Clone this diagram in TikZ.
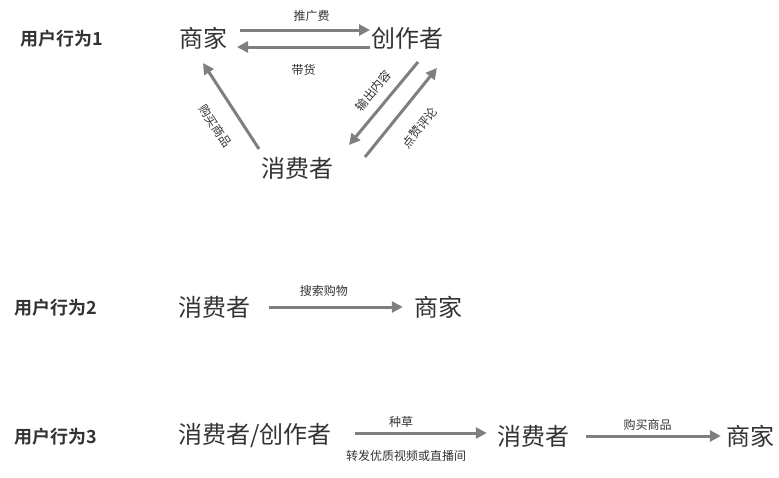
\documentclass[tikz,border=0pt]{standalone}
\usepackage{fontspec}
\setmainfont{Noto Sans CJK SC}[BoldFont={Noto Sans CJK SC Bold}]
\usetikzlibrary{arrows.meta}
\definecolor{arrgray}{HTML}{7F7F7F}
\definecolor{txtgray}{HTML}{333333}
\begin{document}
\begin{tikzpicture}[x=1pt, y=-1pt,
  role/.style={inner sep=0pt, text=txtgray, font=\fontsize{24}{24}\selectfont},
  tag/.style={inner sep=0pt, text=txtgray, font=\bfseries\fontsize{18}{18}\selectfont},
  lbl/.style={inner sep=1pt, text=txtgray, font=\fontsize{12}{12}\selectfont},
  flow/.style={arrgray, line width=3pt, -{Triangle[length=11pt, width=11pt]}}]
\useasboundingbox (0,0) rectangle (779,477);
% behaviour 1
\node[tag] (tag1) at (62,39) {用户行为1};
\node[role] (shang1) at (203,38) {商家};
\node[role] (chuang1) at (407,38) {创作者};
\node[role] (xiao1) at (297,168) {消费者};
\draw[flow] ([shift={(37,-8)}]shang1.center) -- ([shift={(-37,-8)}]chuang1.center)
  node[lbl, pos=0.55, above=6pt] (fee) {推广费};
\draw[flow] ([shift={(-37,9)}]chuang1.center) -- ([shift={(34,9)}]shang1.center)
  node[lbl, pos=0.5, below=15pt] (sell) {带货};
\draw[flow] ([shift={(-38,-19)}]xiao1.center) -- ([shift={(0,25)}]shang1.center)
  node[lbl, sloped, pos=0.42, below=16pt] (buy1) {购买商品};
\draw[flow] ([shift={(11,24)}]chuang1.center) -- ([shift={(52,-23)}]xiao1.center)
  node[lbl, sloped, pos=0.47, above=8pt] (out) {输出内容};
\draw[flow] ([shift={(68,-11)}]xiao1.center) -- ([shift={(30,30)}]chuang1.center)
  node[lbl, sloped, pos=0.5, below=16pt] (like) {点赞评论};
% behaviour 2
\node[tag] (tag2) at (56,308) {用户行为2};
\node[role] (xiao2) at (214,307) {消费者};
\node[role] (shang2) at (438,307) {商家};
\draw[flow, shorten <=19pt, shorten >=11pt] (xiao2.east) -- (shang2.west)
  node[lbl, pos=0.45, above=8pt] (search) {搜索购物};
% behaviour 3
\node[tag] (tag3) at (56,437) {用户行为3};
\node[role] (both3) at (255,436) {消费者/创作者};
\node[role] (xiao3) at (533,436) {消费者};
\node[role] (shang3) at (750,436) {商家};
\draw[flow, shorten <=23pt, shorten >=10pt] ([yshift=3pt]both3.east) -- ([yshift=3pt]xiao3.west)
  node[lbl, pos=0.42, above=3pt] (grass) {种草}
  node[lbl, pos=0.45, below=15pt] (share) {转发优质视频或直播间};
\draw[flow, shorten <=17pt, shorten >=5pt] (xiao3.east) -- (shang3.west)
  node[lbl, pos=0.5, above=3pt] (buy3) {购买商品};
\end{tikzpicture}
\end{document}
